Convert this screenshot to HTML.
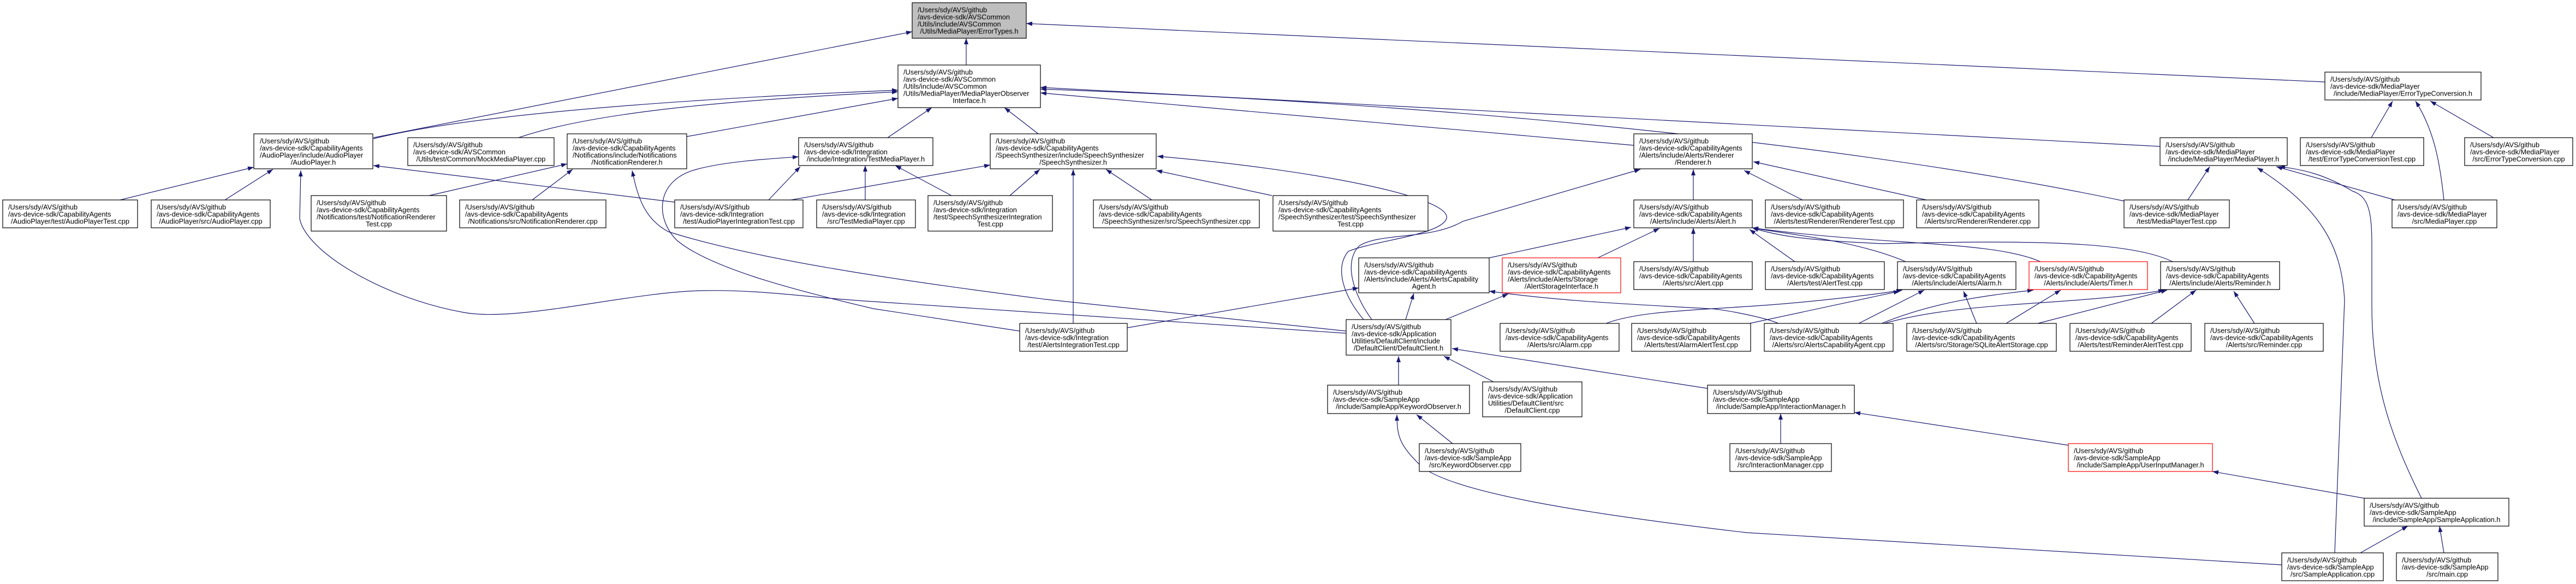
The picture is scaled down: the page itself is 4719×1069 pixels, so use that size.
<!DOCTYPE html>
<html><head><meta charset="utf-8"><style>
html,body{margin:0;padding:0;background:#fff;}
svg{display:block;}
text{font-family:"Liberation Sans",sans-serif;font-size:12.8px;fill:#000;}
.n{fill:#fff;stroke:#000;stroke-width:1.2;}
.r{fill:#fff;stroke:#f00;stroke-width:1.2;}
.g{fill:#bfbfbf;stroke:#000;stroke-width:1.2;}
.e{fill:none;stroke:#191970;stroke-width:1.2;}
.m{text-anchor:middle;}
</style></head><body>
<svg width="4719" height="1069" viewBox="0 0 4719 1069" xmlns="http://www.w3.org/2000/svg">
<defs><marker id="a" markerWidth="11" markerHeight="8" refX="11" refY="4" orient="auto" markerUnits="userSpaceOnUse"><path d="M0,0 L11,4 L0,8 z" fill="#191970"/></marker></defs>
<g class="e" marker-end="url(#a)">
<path d="M1770,119 L1770,70"/>
<path d="M684,252 L1671,58"/>
<path d="M4259,150 L1880,43"/>
<path d="M684,254 C900,200 1400,175 1645,165"/>
<path d="M950,252 C1100,200 1400,180 1645,168"/>
<path d="M1258,250 L1645,180"/>
<path d="M1626,252 L1707,197"/>
<path d="M1902,245 L1840,197"/>
<path d="M2993,266 L1906,170"/>
<path d="M3957,268 L1906,160"/>
<path d="M3891,368 C3500,285 2800,195 1906,163"/>
<path d="M220,366 L465,306"/>
<path d="M412,366 L500,310"/>
<path d="M1236,370 L684,303"/>
<path d="M2466,610 L1600,552 C1480,545 1400,530 1286,532 C1150,535 950,590 850,572 C700,545 560,460 549,400 L551,312"/>
<path d="M786,358 L1039,300"/>
<path d="M975,366 L1049,310"/>
<path d="M2466,606 L1916,548 C1700,520 1400,480 1224,424 C1180,400 1168,360 1158,312"/>
<path d="M1408,366 L1466,305"/>
<path d="M1585,366 L1585,303"/>
<path d="M1743,358 L1640,303"/>
<path d="M1868,606 L1600,565 C1450,530 1300,490 1240,440 C1200,400 1200,330 1276,310 C1330,295 1420,290 1463,287"/>
<path d="M1449,366 L1814,302"/>
<path d="M1850,358 L1905,310"/>
<path d="M2110,366 L2026,310"/>
<path d="M2330,358 L2118,312"/>
<path d="M1966,592 L1966,310"/>
<path d="M2498,585 C2460,540 2445,490 2470,460 C2520,440 2640,430 2650,400 C2660,360 2400,310 2120,286"/>
<path d="M2513,585 C2480,540 2460,480 2490,450 C2530,425 2620,440 2680,405 L3005,310"/>
<path d="M2065,600 L2489,527"/>
<path d="M2575,585 L2590,537"/>
<path d="M2648,585 L2763,538"/>
<path d="M3258,592 C3230,580 3150,565 3131,565 C2950,555 2850,550 2728,533"/>
<path d="M2728,472 L2988,416"/>
<path d="M2927,472 L3040,418"/>
<path d="M3102,479 L3102,417"/>
<path d="M3102,366 L3102,310"/>
<path d="M3302,366 L3195,312"/>
<path d="M3529,366 L3212,296"/>
<path d="M3288,479 L3205,420"/>
<path d="M3491,479 C3400,440 3280,430 3210,417"/>
<path d="M3738,479 C3650,440 3450,450 3210,417"/>
<path d="M3980,479 C3900,440 3700,440 3450,446 C3300,440 3250,430 3210,417"/>
<path d="M3405,592 L3525,531"/>
<path d="M3447,592 C3550,550 3650,540 3725,531"/>
<path d="M3452,592 C3600,550 3800,560 3965,531"/>
<path d="M3621,592 L3597,533"/>
<path d="M3675,592 L3775,531"/>
<path d="M3733,592 L3970,531"/>
<path d="M3941,592 L4023,531"/>
<path d="M4130,592 L4092,533"/>
<path d="M2942,592 C3000,570 3100,568 3200,561 C3300,555 3430,540 3485,531"/>
<path d="M3205,592 L3480,533"/>
<path d="M4008,366 L4048,305"/>
<path d="M4387,366 L4170,305"/>
<path d="M4477,366 C4470,300 4460,240 4425,185"/>
<path d="M4344,252 L4383,185"/>
<path d="M4568,252 L4452,185"/>
<path d="M4436,912 C4380,800 4345,700 4345,560 L4345,450 C4345,390 4340,360 4310,350 C4260,320 4220,310 4175,305"/>
<path d="M4277,1012 L4295,550 C4290,450 4250,380 4135,307"/>
<path d="M2562,705 L2562,652"/>
<path d="M2736,699 L2645,652"/>
<path d="M3128,711 L2660,638"/>
<path d="M2661,812 L2595,759"/>
<path d="M4180,1034 L3200,975 C2900,940 2650,900 2600,850 C2565,815 2559,800 2559,759"/>
<path d="M3262,812 L3262,757"/>
<path d="M3789,815 L3397,755"/>
<path d="M4331,912 L4053,863"/>
<path d="M4324,1012 L4411,963"/>
<path d="M4477,1012 L4469,963"/>
</g>

<!-- nodes -->
<rect class="g" x="1671" y="5" width="209" height="65"/>
<text x="1681" y="22.5">/Users/sdy/AVS/github</text><text x="1681" y="35.5">/avs-device-sdk/AVSCommon</text><text x="1681" y="48.5">/Utils/include/AVSCommon</text><text x="1775.5" y="61.5" class="m">/Utils/MediaPlayer/ErrorTypes.h</text>

<rect class="n" x="1645" y="119" width="261" height="78"/>
<text x="1655" y="136.5">/Users/sdy/AVS/github</text><text x="1655" y="149.5">/avs-device-sdk/AVSCommon</text><text x="1655" y="162.5">/Utils/include/AVSCommon</text><text x="1655" y="175.5">/Utils/MediaPlayer/MediaPlayerObserver</text><text x="1775.5" y="188.5" class="m">Interface.h</text>

<rect class="n" x="4259" y="132" width="286" height="51"/>
<text x="4269" y="149.5">/Users/sdy/AVS/github</text><text x="4269" y="162.5">/avs-device-sdk/MediaPlayer</text><text x="4402" y="175.5" class="m">/include/MediaPlayer/ErrorTypeConversion.h</text>

<rect class="n" x="465" y="245" width="218" height="64"/>
<text x="476" y="262.5">/Users/sdy/AVS/github</text><text x="476" y="275.5">/avs-device-sdk/CapabilityAgents</text><text x="476" y="288.5">/AudioPlayer/include/AudioPlayer</text><text x="574" y="301.5" class="m">/AudioPlayer.h</text>

<rect class="n" x="747" y="252" width="268" height="51"/>
<text x="757" y="269.5">/Users/sdy/AVS/github</text><text x="757" y="282.5">/avs-device-sdk/AVSCommon</text><text x="881" y="295.5" class="m">/Utils/test/Common/MockMediaPlayer.cpp</text>

<rect class="n" x="1039" y="245" width="219" height="64"/>
<text x="1049" y="262.5">/Users/sdy/AVS/github</text><text x="1049" y="275.5">/avs-device-sdk/CapabilityAgents</text><text x="1049" y="288.5">/Notifications/include/Notifications</text><text x="1148.5" y="301.5" class="m">/NotificationRenderer.h</text>

<rect class="n" x="1463" y="252" width="246" height="51"/>
<text x="1473" y="269.5">/Users/sdy/AVS/github</text><text x="1473" y="282.5">/avs-device-sdk/Integration</text><text x="1586" y="295.5" class="m">/include/Integration/TestMediaPlayer.h</text>

<rect class="n" x="1814" y="245" width="304" height="64"/>
<text x="1824" y="262.5">/Users/sdy/AVS/github</text><text x="1824" y="275.5">/avs-device-sdk/CapabilityAgents</text><text x="1824" y="288.5">/SpeechSynthesizer/include/SpeechSynthesizer</text><text x="1966" y="301.5" class="m">/SpeechSynthesizer.h</text>

<rect class="n" x="2993" y="245" width="217" height="64"/>
<text x="3003" y="262.5">/Users/sdy/AVS/github</text><text x="3003" y="275.5">/avs-device-sdk/CapabilityAgents</text><text x="3003" y="288.5">/Alerts/include/Alerts/Renderer</text><text x="3101.5" y="301.5" class="m">/Renderer.h</text>

<rect class="n" x="3957" y="252" width="233" height="51"/>
<text x="3967" y="269.5">/Users/sdy/AVS/github</text><text x="3967" y="282.5">/avs-device-sdk/MediaPlayer</text><text x="4073.5" y="295.5" class="m">/include/MediaPlayer/MediaPlayer.h</text>

<rect class="n" x="4214" y="252" width="226" height="51"/>
<text x="4224" y="269.5">/Users/sdy/AVS/github</text><text x="4224" y="282.5">/avs-device-sdk/MediaPlayer</text><text x="4327" y="295.5" class="m">/test/ErrorTypeConversionTest.cpp</text>

<rect class="n" x="4515" y="252" width="198" height="51"/>
<text x="4525" y="269.5">/Users/sdy/AVS/github</text><text x="4525" y="282.5">/avs-device-sdk/MediaPlayer</text><text x="4614" y="295.5" class="m">/src/ErrorTypeConversion.cpp</text>

<rect class="n" x="5" y="366" width="247" height="51"/>
<text x="15" y="383.5">/Users/sdy/AVS/github</text><text x="15" y="396.5">/avs-device-sdk/CapabilityAgents</text><text x="128.5" y="409.5" class="m">/AudioPlayer/test/AudioPlayerTest.cpp</text>

<rect class="n" x="277" y="366" width="218" height="51"/>
<text x="287" y="383.5">/Users/sdy/AVS/github</text><text x="287" y="396.5">/avs-device-sdk/CapabilityAgents</text><text x="386" y="409.5" class="m">/AudioPlayer/src/AudioPlayer.cpp</text>

<rect class="n" x="570" y="358" width="248" height="65"/>
<text x="580" y="375.5">/Users/sdy/AVS/github</text><text x="580" y="388.5">/avs-device-sdk/CapabilityAgents</text><text x="580" y="401.5">/Notifications/test/NotificationRenderer</text><text x="694" y="414.5" class="m">Test.cpp</text>

<rect class="n" x="842" y="366" width="268" height="51"/>
<text x="852" y="383.5">/Users/sdy/AVS/github</text><text x="852" y="396.5">/avs-device-sdk/CapabilityAgents</text><text x="976" y="409.5" class="m">/Notifications/src/NotificationRenderer.cpp</text>

<rect class="n" x="1236" y="366" width="235" height="51"/>
<text x="1246" y="383.5">/Users/sdy/AVS/github</text><text x="1246" y="396.5">/avs-device-sdk/Integration</text><text x="1353.5" y="409.5" class="m">/test/AudioPlayerIntegrationTest.cpp</text>

<rect class="n" x="1496" y="366" width="181" height="51"/>
<text x="1506" y="383.5">/Users/sdy/AVS/github</text><text x="1506" y="396.5">/avs-device-sdk/Integration</text><text x="1586.5" y="409.5" class="m">/src/TestMediaPlayer.cpp</text>

<rect class="n" x="1700" y="358" width="228" height="65"/>
<text x="1710" y="375.5">/Users/sdy/AVS/github</text><text x="1710" y="388.5">/avs-device-sdk/Integration</text><text x="1710" y="401.5">/test/SpeechSynthesizerIntegration</text><text x="1814" y="414.5" class="m">Test.cpp</text>

<rect class="n" x="2003" y="366" width="304" height="51"/>
<text x="2013" y="383.5">/Users/sdy/AVS/github</text><text x="2013" y="396.5">/avs-device-sdk/CapabilityAgents</text><text x="2155" y="409.5" class="m">/SpeechSynthesizer/src/SpeechSynthesizer.cpp</text>

<rect class="n" x="2332" y="358" width="284" height="65"/>
<text x="2342" y="375.5">/Users/sdy/AVS/github</text><text x="2342" y="388.5">/avs-device-sdk/CapabilityAgents</text><text x="2342" y="401.5">/SpeechSynthesizer/test/SpeechSynthesizer</text><text x="2474" y="414.5" class="m">Test.cpp</text>

<rect class="n" x="2993" y="366" width="217" height="51"/>
<text x="3003" y="383.5">/Users/sdy/AVS/github</text><text x="3003" y="396.5">/avs-device-sdk/CapabilityAgents</text><text x="3101.5" y="409.5" class="m">/Alerts/include/Alerts/Alert.h</text>

<rect class="n" x="3234" y="366" width="253" height="51"/>
<text x="3244" y="383.5">/Users/sdy/AVS/github</text><text x="3244" y="396.5">/avs-device-sdk/CapabilityAgents</text><text x="3360.5" y="409.5" class="m">/Alerts/test/Renderer/RendererTest.cpp</text>

<rect class="n" x="3511" y="366" width="224" height="51"/>
<text x="3521" y="383.5">/Users/sdy/AVS/github</text><text x="3521" y="396.5">/avs-device-sdk/CapabilityAgents</text><text x="3623" y="409.5" class="m">/Alerts/src/Renderer/Renderer.cpp</text>

<rect class="n" x="3891" y="366" width="193" height="51"/>
<text x="3901" y="383.5">/Users/sdy/AVS/github</text><text x="3901" y="396.5">/avs-device-sdk/MediaPlayer</text><text x="3987.5" y="409.5" class="m">/test/MediaPlayerTest.cpp</text>

<rect class="n" x="4382" y="366" width="192" height="51"/>
<text x="4392" y="383.5">/Users/sdy/AVS/github</text><text x="4392" y="396.5">/avs-device-sdk/MediaPlayer</text><text x="4478" y="409.5" class="m">/src/MediaPlayer.cpp</text>

<rect class="n" x="2489" y="472" width="239" height="64"/>
<text x="2499" y="489.5">/Users/sdy/AVS/github</text><text x="2499" y="502.5">/avs-device-sdk/CapabilityAgents</text><text x="2499" y="515.5">/Alerts/include/Alerts/AlertsCapability</text><text x="2608.5" y="528.5" class="m">Agent.h</text>

<rect class="r" x="2752" y="472" width="217" height="64"/>
<text x="2762" y="489.5">/Users/sdy/AVS/github</text><text x="2762" y="502.5">/avs-device-sdk/CapabilityAgents</text><text x="2762" y="515.5">/Alerts/include/Alerts/Storage</text><text x="2860.5" y="528.5" class="m">/AlertStorageInterface.h</text>

<rect class="n" x="2993" y="479" width="217" height="51"/>
<text x="3003" y="496.5">/Users/sdy/AVS/github</text><text x="3003" y="509.5">/avs-device-sdk/CapabilityAgents</text><text x="3101.5" y="522.5" class="m">/Alerts/src/Alert.cpp</text>

<rect class="n" x="3234" y="479" width="218" height="51"/>
<text x="3244" y="496.5">/Users/sdy/AVS/github</text><text x="3244" y="509.5">/avs-device-sdk/CapabilityAgents</text><text x="3343" y="522.5" class="m">/Alerts/test/AlertTest.cpp</text>

<rect class="n" x="3476" y="479" width="217" height="51"/>
<text x="3486" y="496.5">/Users/sdy/AVS/github</text><text x="3486" y="509.5">/avs-device-sdk/CapabilityAgents</text><text x="3584.5" y="522.5" class="m">/Alerts/include/Alerts/Alarm.h</text>

<rect class="r" x="3717" y="479" width="217" height="51"/>
<text x="3727" y="496.5">/Users/sdy/AVS/github</text><text x="3727" y="509.5">/avs-device-sdk/CapabilityAgents</text><text x="3825.5" y="522.5" class="m">/Alerts/include/Alerts/Timer.h</text>

<rect class="n" x="3958" y="479" width="218" height="51"/>
<text x="3968" y="496.5">/Users/sdy/AVS/github</text><text x="3968" y="509.5">/avs-device-sdk/CapabilityAgents</text><text x="4067" y="522.5" class="m">/Alerts/include/Alerts/Reminder.h</text>

<rect class="n" x="1868" y="592" width="197" height="51"/>
<text x="1878" y="609.5">/Users/sdy/AVS/github</text><text x="1878" y="622.5">/avs-device-sdk/Integration</text><text x="1966.5" y="635.5" class="m">/test/AlertsIntegrationTest.cpp</text>

<rect class="n" x="2466" y="585" width="192" height="65"/>
<text x="2476" y="602.5">/Users/sdy/AVS/github</text><text x="2476" y="615.5">/avs-device-sdk/Application</text><text x="2476" y="628.5">Utilities/DefaultClient/include</text><text x="2562" y="641.5" class="m">/DefaultClient/DefaultClient.h</text>

<rect class="n" x="2748" y="592" width="218" height="51"/>
<text x="2758" y="609.5">/Users/sdy/AVS/github</text><text x="2758" y="622.5">/avs-device-sdk/CapabilityAgents</text><text x="2857" y="635.5" class="m">/Alerts/src/Alarm.cpp</text>

<rect class="n" x="2989" y="592" width="218" height="51"/>
<text x="2999" y="609.5">/Users/sdy/AVS/github</text><text x="2999" y="622.5">/avs-device-sdk/CapabilityAgents</text><text x="3098" y="635.5" class="m">/Alerts/test/AlarmAlertTest.cpp</text>

<rect class="n" x="3232" y="592" width="236" height="51"/>
<text x="3242" y="609.5">/Users/sdy/AVS/github</text><text x="3242" y="622.5">/avs-device-sdk/CapabilityAgents</text><text x="3350" y="635.5" class="m">/Alerts/src/AlertsCapabilityAgent.cpp</text>

<rect class="n" x="3493" y="592" width="274" height="51"/>
<text x="3503" y="609.5">/Users/sdy/AVS/github</text><text x="3503" y="622.5">/avs-device-sdk/CapabilityAgents</text><text x="3630" y="635.5" class="m">/Alerts/src/Storage/SQLiteAlertStorage.cpp</text>

<rect class="n" x="3792" y="592" width="222" height="51"/>
<text x="3802" y="609.5">/Users/sdy/AVS/github</text><text x="3802" y="622.5">/avs-device-sdk/CapabilityAgents</text><text x="3903" y="635.5" class="m">/Alerts/test/ReminderAlertTest.cpp</text>

<rect class="n" x="4039" y="592" width="217" height="51"/>
<text x="4049" y="609.5">/Users/sdy/AVS/github</text><text x="4049" y="622.5">/avs-device-sdk/CapabilityAgents</text><text x="4147.5" y="635.5" class="m">/Alerts/src/Reminder.cpp</text>

<rect class="n" x="2432" y="705" width="260" height="52"/>
<text x="2442" y="722.5">/Users/sdy/AVS/github</text><text x="2442" y="735.5">/avs-device-sdk/SampleApp</text><text x="2562" y="748.5" class="m">/include/SampleApp/KeywordObserver.h</text>

<rect class="n" x="2716" y="699" width="182" height="64"/>
<text x="2726" y="716.5">/Users/sdy/AVS/github</text><text x="2726" y="729.5">/avs-device-sdk/Application</text><text x="2726" y="742.5">Utilities/DefaultClient/src</text><text x="2807" y="755.5" class="m">/DefaultClient.cpp</text>

<rect class="n" x="3128" y="705" width="269" height="52"/>
<text x="3138" y="722.5">/Users/sdy/AVS/github</text><text x="3138" y="735.5">/avs-device-sdk/SampleApp</text><text x="3262.5" y="748.5" class="m">/include/SampleApp/InteractionManager.h</text>

<rect class="n" x="2600" y="812" width="186" height="51"/>
<text x="2610" y="829.5">/Users/sdy/AVS/github</text><text x="2610" y="842.5">/avs-device-sdk/SampleApp</text><text x="2693" y="855.5" class="m">/src/KeywordObserver.cpp</text>

<rect class="n" x="3169" y="812" width="186" height="51"/>
<text x="3179" y="829.5">/Users/sdy/AVS/github</text><text x="3179" y="842.5">/avs-device-sdk/SampleApp</text><text x="3262" y="855.5" class="m">/src/InteractionManager.cpp</text>

<rect class="r" x="3789" y="812" width="264" height="51"/>
<text x="3799" y="829.5">/Users/sdy/AVS/github</text><text x="3799" y="842.5">/avs-device-sdk/SampleApp</text><text x="3921" y="855.5" class="m">/include/SampleApp/UserInputManager.h</text>

<rect class="n" x="4331" y="912" width="265" height="51"/>
<text x="4341" y="929.5">/Users/sdy/AVS/github</text><text x="4341" y="942.5">/avs-device-sdk/SampleApp</text><text x="4463.5" y="955.5" class="m">/include/SampleApp/SampleApplication.h</text>

<rect class="n" x="4180" y="1012" width="186" height="51"/>
<text x="4190" y="1029.5">/Users/sdy/AVS/github</text><text x="4190" y="1042.5">/avs-device-sdk/SampleApp</text><text x="4273" y="1055.5" class="m">/src/SampleApplication.cpp</text>

<rect class="n" x="4390" y="1012" width="186" height="51"/>
<text x="4400" y="1029.5">/Users/sdy/AVS/github</text><text x="4400" y="1042.5">/avs-device-sdk/SampleApp</text><text x="4483" y="1055.5" class="m">/src/main.cpp</text>
</svg>
</body></html>
